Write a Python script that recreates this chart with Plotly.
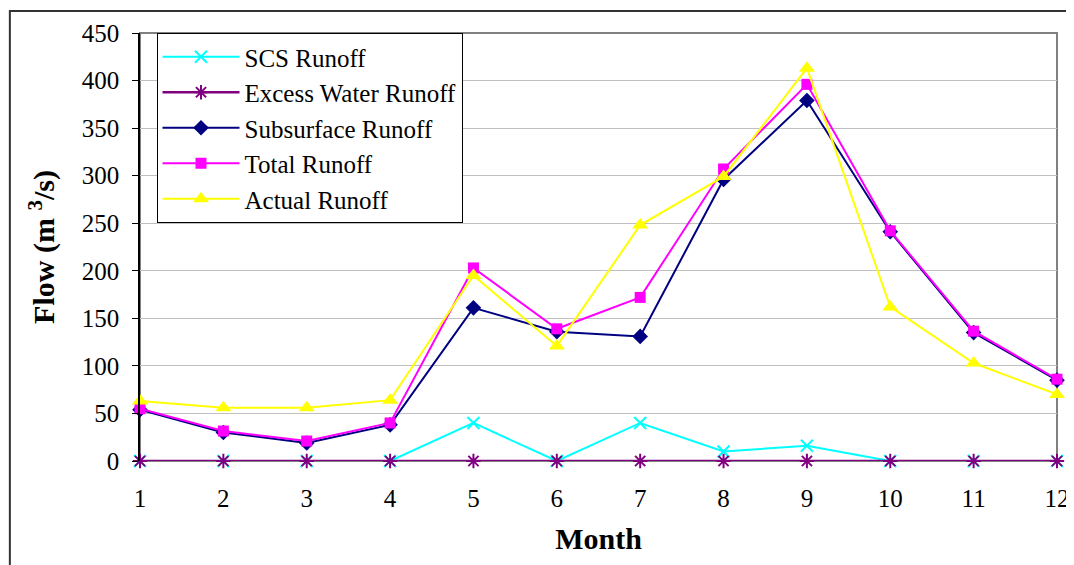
import plotly.graph_objects as go

months = [1, 2, 3, 4, 5, 6, 7, 8, 9, 10, 11, 12]
scs_runoff = [0, 0, 0, 0, 40, 0, 40, 10, 16, 0, 0, 0]
excess_water_runoff = [0, 0, 0, 0, 0, 0, 0, 0, 0, 0, 0, 0]
subsurface_runoff = [54, 30, 19, 38, 161, 136, 131, 296, 379, 241, 135, 85]
total_runoff = [55, 31.5, 21, 40, 203, 139, 172, 307, 396, 242, 136.5, 86]
actual_runoff = [63, 56, 56, 64, 195, 121, 248, 299, 413, 162, 103, 70]
y_ticks = [0, 50, 100, 150, 200, 250, 300, 350, 400, 450]

FONT = "Liberation Serif, Times New Roman, serif"

series = [
    ("SCS Runoff", scs_runoff, "#00FFFF", dict(symbol="x-thin-open", size=12, line=dict(width=2, color="#00FFFF"))),
    ("Excess Water Runoff", excess_water_runoff, "#800080", dict(symbol="asterisk-open", size=12, line=dict(width=2, color="#800080"))),
    ("Subsurface Runoff", subsurface_runoff, "#000080", dict(symbol="diamond", size=12, color="#000080")),
    ("Total Runoff", total_runoff, "#FF00FF", dict(symbol="square", size=11, color="#FF00FF")),
    ("Actual Runoff", actual_runoff, "#FFFF00", dict(symbol="triangle-up", size=14, color="#FFFF00")),
]

fig = go.Figure()
for i, (name, vals, color, mk) in enumerate(series):
    fig.add_trace(go.Scatter(
        x=months, y=vals, name=name, mode="lines+markers",
        line=dict(color=color, width=2.5 if i == 1 else 2),
        marker=mk, cliponaxis=False, legendgroup=name,
    ))

PW = 923.0
PH = 430.0
L, T = 132, 23

fig.update_layout(
    width=1074, height=565,
    margin=dict(l=L, r=1074 - L - int(PW), t=T, b=565 - T - int(PH)),
    paper_bgcolor="white", plot_bgcolor="white",
    font=dict(family=FONT, size=25, color="black"),
    showlegend=True,
    legend=dict(
        x=0.018, y=1.0, xanchor="left", yanchor="top",
        bgcolor="white", bordercolor="black", borderwidth=1,
        font=dict(family=FONT, size=25, color="black"),
        tracegroupgap=0, itemwidth=77,
    ),
    xaxis=dict(
        range=[1, 12], tickvals=months, ticktext=[str(m) for m in months],
        showgrid=False, zeroline=False, showline=False,
        ticks="", ticklabelstandoff=20,
        tickfont=dict(family=FONT, size=25),
        title=dict(text="<b>Month</b>", font=dict(family=FONT, size=30), standoff=16),
    ),
    yaxis=dict(
        range=[0, 450], tickvals=y_ticks,
        showgrid=True, gridcolor="#C0C0C0", gridwidth=1,
        zeroline=False, showline=True, linecolor="black", linewidth=1.5,
        ticks="outside", ticklen=6, tickcolor="black", ticklabelstandoff=8,
        tickfont=dict(family=FONT, size=25),
        title=dict(text="<b>Flow (m <sup>3</sup>/s)</b>", font=dict(family=FONT, size=30), standoff=18),
    ),
    shapes=[
        dict(type="rect", xref="paper", yref="paper", x0=0, x1=1, y0=0, y1=1,
             line=dict(color="#808080", width=2), layer="below"),
        dict(type="rect", xref="paper", yref="paper",
             x0=(-L + 1) / PW, x1=1.1, y0=-0.5, y1=1 + (T - 1) / PH,
             line=dict(color="#333333", width=2), layer="below"),
    ],
)

fig.write_html("out.html")
